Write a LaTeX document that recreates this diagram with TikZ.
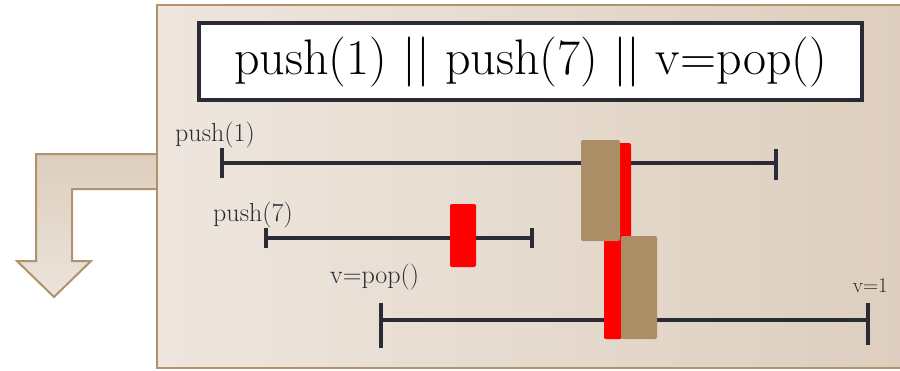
\documentclass[tikz,border=0pt]{standalone}
\definecolor{brun}{RGB}{176,146,108}
\definecolor{sable}{RGB}{172,142,102}
\definecolor{encre}{RGB}{43,43,54}
\definecolor{clair}{RGB}{238,230,222}
\definecolor{fonce}{RGB}{221,206,190}
\tikzset{
  trait/.style={encre, line width=4.5pt},
  bloc/.style={rounded corners=2pt},
  etiq/.style={encre, font=\fontsize{26}{28}\selectfont, inner sep=0pt},
}
\begin{document}
\begin{tikzpicture}[x=1pt,y=-1pt]%{{{
\useasboundingbox (0,0) rectangle (900,370);
\clip (0,0) rectangle (900,370);
%
% Fleche coudee
\path [shade, top color=fonce, bottom color=clair!90!fonce, draw=brun, line width=2pt]
      (160,154) -- (36,154) -- (36,261) -- (17,261) -- (54,297)
   -- (91,261) -- (72,261) -- (72,189) -- (160,189);
%
% Panneau
\path [shade, left color=clair, right color=fonce, draw=brun, line width=2pt]
      (157,5) rectangle (910,368);
%
% Titre
\node (titre) [draw=encre, line width=4pt, fill=white, minimum width=663,
      minimum height=77, inner sep=0pt, font=\fontsize{50}{54}\selectfont]
      at (530.5,61.5) {push(1) || push(7) || v=pop()};
%
% push(1)
\coordinate (a1) at (222,163);
\coordinate (b1) at (776,163);
\draw [trait] (a1) -- (b1);
\draw [trait] ([yshift=-15]a1) -- ([yshift=15]a1);
\draw [trait] ([yshift=-17]b1) -- ([yshift=14]b1);
\node (l1) [etiq, anchor=base west] at (175,141) {push(1)};
%
% push(7)
\coordinate (a2) at (266,238);
\coordinate (b2) at (532,238);
\draw [trait] (a2) -- (b2);
\draw [trait] ([yshift=-10]a2) -- ([yshift=10]a2);
\draw [trait] ([yshift=-10]b2) -- ([yshift=10]b2);
\node (l2) [etiq, anchor=base west] at (213,221) {push(7)};
%
% v=pop()
\coordinate (a3) at (381,320);
\coordinate (b3) at (868,320);
\draw [trait] (a3) -- (b3);
\draw [trait] ([yshift=-28]a3) -- ([yshift=17]a3);
\draw [trait] ([yshift=-25]b3) -- ([yshift=17]b3);
\node (l3) [etiq, anchor=base west] at (330,283) {v=pop()};
\node (l4) [etiq, anchor=base east, font=\fontsize{21}{23}\selectfont] at (888,292) {v=1};
%
% Points de linearisation
\fill [red, bloc] (450,204) rectangle (476,267);
\fill [red, bloc] (615,143) rectangle (631,240);
\fill [red, bloc] (604,200) rectangle (622,339);
\fill [sable, bloc] (581,140) rectangle (620,241);
\fill [sable, bloc] (621,236) rectangle (657,339);
%
\end{tikzpicture}
\end{document}
